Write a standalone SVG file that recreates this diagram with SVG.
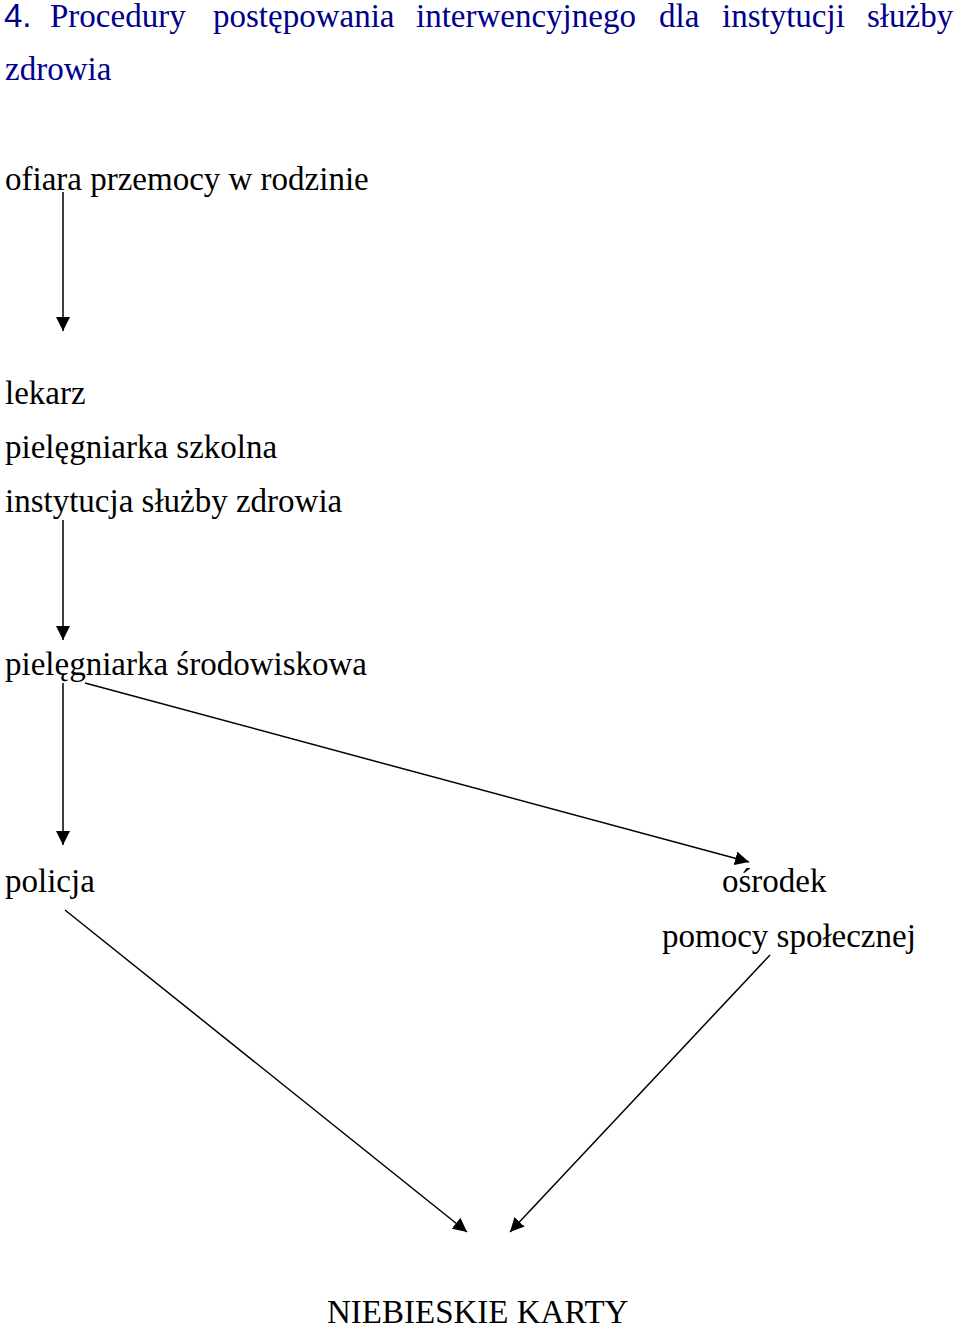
<svg xmlns="http://www.w3.org/2000/svg" width="960" height="1326" viewBox="0 0 960 1326">
<style>
text{font-family:"Liberation Serif","Times New Roman",serif;font-size:33px;fill:#000}
.t{fill:#00008b}
.s{font-family:"Liberation Sans",Arial,sans-serif}
line{stroke:#000;stroke-width:1.5}
</style>
<defs><marker id="a" markerWidth="14" markerHeight="14" refX="13" refY="6.5" orient="auto" markerUnits="userSpaceOnUse" viewBox="0 0 13 13"><path d="M0,0L13,6.5L0,13z" fill="#000"/></marker></defs>
<rect width="960" height="1326" fill="#fff"/>
<g id="title">
<text class="t s" x="4" y="27" font-size="28">4.</text>
<text class="t" x="50" y="27">Procedury</text>
<text class="t" x="213" y="27">postępowania</text>
<text class="t" x="416" y="27">interwencyjnego</text>
<text class="t" x="659" y="27">dla</text>
<text class="t" x="722" y="27">instytucji</text>
<text class="t" x="867" y="27">służby</text>
<text class="t" x="5" y="80">zdrowia</text>
</g>
<g id="n1"><text x="5" y="190">ofiara przemocy w rodzinie</text></g>
<g id="n2"><text x="5" y="404">lekarz</text><text x="5" y="458">pielęgniarka szkolna</text><text x="5" y="512">instytucja służby zdrowia</text></g>
<g id="n3"><text x="5" y="675">pielęgniarka środowiskowa</text></g>
<g id="n4"><text x="5" y="892">policja</text></g>
<g id="n5"><text x="722" y="892">ośrodek</text><text x="662" y="947">pomocy społecznej</text></g>
<g id="n6"><text x="327" y="1323">NIEBIESKIE KARTY</text></g>
<g id="connectors">
<line x1="63" y1="192" x2="63" y2="331" marker-end="url(#a)"/>
<line x1="63" y1="520" x2="63" y2="640" marker-end="url(#a)"/>
<line x1="63" y1="683" x2="63" y2="845" marker-end="url(#a)"/>
<line x1="85" y1="683" x2="749" y2="862" marker-end="url(#a)"/>
<line x1="65" y1="910" x2="467" y2="1232" marker-end="url(#a)"/>
<line x1="770" y1="955" x2="510" y2="1232" marker-end="url(#a)"/>
</g>
</svg>
